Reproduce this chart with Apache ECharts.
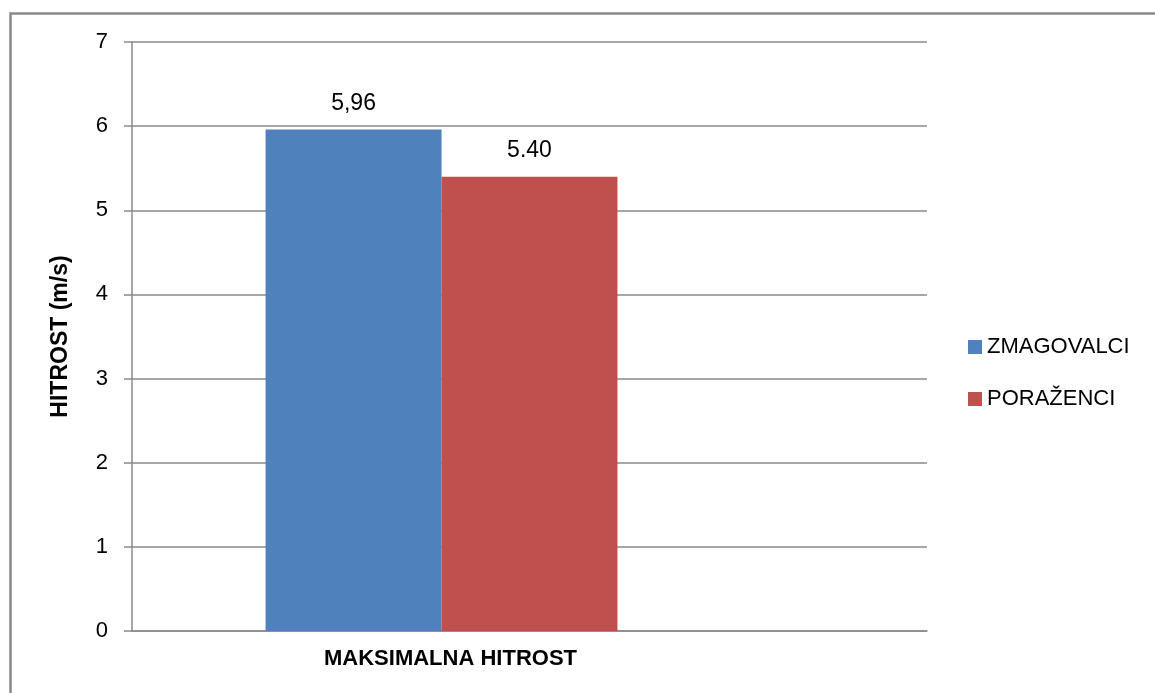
<!DOCTYPE html>
<html>
<head>
<meta charset="utf-8">
<script src="https://cdn.jsdelivr.net/npm/echarts@6/dist/echarts.min.js"></script>
<style>
  html, body { margin: 0; padding: 0; background: #fff; }
  #chart { width: 1155px; height: 693px; }
</style>
</head>
<body>
<div id="chart"></div>
<script>
// Maximum speed of winners and losers (m/s)
const categories = ['MAKSIMALNA HITROST'];
const winners = [5.96];
const losers = [5.40];
const yTicks = [0, 1, 2, 3, 4, 5, 6, 7];

const FONT = 'Liberation Sans';
const chart = echarts.init(document.getElementById('chart'));

const option = {
  backgroundColor: '#ffffff',
  animation: false,
  graphic: [{
    type: 'rect',
    left: 8, top: 11,
    shape: { width: 1200, height: 800 },
    style: { fill: 'none', stroke: '#8a8a8a', lineWidth: 2.5 },
    silent: true
  }],
  legend: {
    data: ['ZMAGOVALCI', 'PORAŽENCI'],
    orient: 'vertical',
    left: 963,
    top: 331,
    itemWidth: 14,
    itemHeight: 14,
    itemGap: 30,
    icon: 'rect',
    textStyle: { fontFamily: FONT, fontSize: 22, color: '#000' }
  },
  grid: { left: 132, right: 1155 - 927, top: 42, bottom: 693 - 631, containLabel: false },
  xAxis: {
    type: 'category',
    data: categories,
    axisLine: { lineStyle: { color: '#8a8a8a', width: 1.5 } },
    axisTick: { show: false },
    axisLabel: {
      fontFamily: FONT, fontSize: 22, fontWeight: 'bold', color: '#000',
      margin: 17,
      padding: [0, 158, 0, 0]
    }
  },
  yAxis: {
    type: 'value',
    min: yTicks[0],
    max: yTicks[yTicks.length - 1],
    interval: 1,
    name: 'HITROST (m/s)',
    nameLocation: 'middle',
    nameRotate: 90,
    nameGap: 60,
    nameTextStyle: { fontFamily: FONT, fontSize: 23, fontWeight: 'bold', color: '#000' },
    axisLine: { show: true, lineStyle: { color: '#8a8a8a', width: 1.5 } },
    axisTick: { show: true, length: 8, lineStyle: { color: '#8a8a8a', width: 1.5 } },
    axisLabel: { fontFamily: FONT, fontSize: 22, color: '#000', margin: 24 },
    splitLine: { lineStyle: { color: '#8a8a8a', width: 1.5 } }
  },
  series: [
    {
      name: 'ZMAGOVALCI',
      type: 'bar',
      data: winners,
      barGap: '0%',
      barCategoryGap: '33.6%',
      itemStyle: { color: '#4F81BD' },
      label: {
        show: true, position: 'top', distance: 14,
        fontFamily: FONT, fontSize: 23, color: '#000',
        formatter: p => p.value.toFixed(2).replace('.', ',')
      }
    },
    {
      name: 'PORAŽENCI',
      type: 'bar',
      data: losers,
      itemStyle: { color: '#C0504D' },
      label: {
        show: true, position: 'top', distance: 14,
        fontFamily: FONT, fontSize: 23, color: '#000',
        formatter: p => p.value.toFixed(2)
      }
    },
    {
      // empty third slot in the category band
      name: '',
      type: 'bar',
      data: ['-']
    }
  ]
};

chart.setOption(option);
</script>
</body>
</html>
